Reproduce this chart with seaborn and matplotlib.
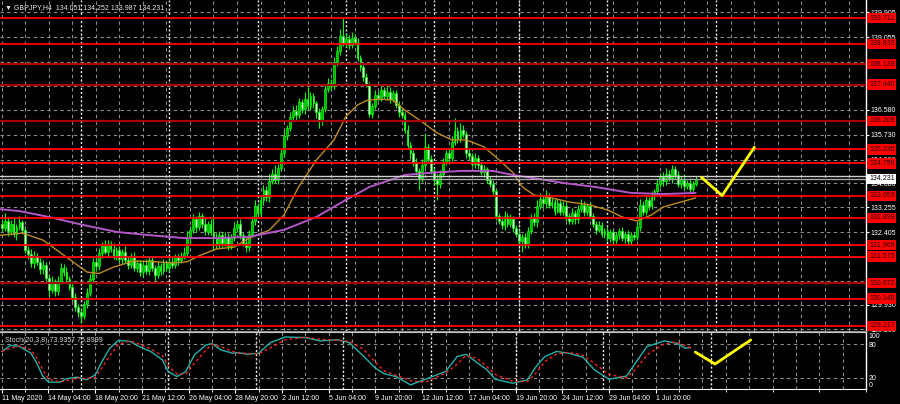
import numpy as np
import pandas as pd
import matplotlib
matplotlib.use("Agg")
import matplotlib.pyplot as plt
import matplotlib.transforms as mtransforms
import seaborn as sns

# GBPJPY H4, bar index counted from 11 May 2020 00:00 (bar 0)
first_bar = 3
first_open = 132.70
close = [
    132.55, 132.80, 132.45, 132.70, 132.35, 132.60, 132.75, 132.50, 131.80, 131.65,
    131.35, 131.60, 131.40, 131.15, 131.30, 130.85, 130.45, 130.70, 130.40, 130.75,
    131.20, 131.05, 130.80, 130.55, 130.20, 129.85, 129.70, 129.55, 129.95, 130.35,
    130.80, 131.40, 131.25, 131.70, 131.95, 131.75, 132.00, 131.85, 131.60, 131.80,
    131.50, 131.75, 131.45, 131.30, 131.55, 131.20, 131.35, 131.05, 131.30, 131.10,
    131.45, 131.20, 130.95, 131.25, 131.10, 131.35, 131.20, 131.40, 131.30, 131.55,
    131.45, 131.60, 131.70, 132.20, 132.50, 132.85, 132.60, 132.95, 132.70, 132.45,
    132.70, 132.40, 132.25, 132.00, 132.30, 132.05, 132.25, 131.95, 132.20, 132.55,
    132.70, 132.30, 132.05, 131.90, 132.35, 132.80, 133.30, 133.05, 133.50, 133.85,
    133.60, 134.15, 134.40, 134.20, 134.60, 135.10, 135.70, 135.95, 136.35, 136.55,
    136.40, 136.85, 136.60, 136.95, 136.70, 137.05, 136.80, 136.50, 136.20, 136.60,
    137.30, 137.50, 137.40, 138.20, 138.60, 139.10, 138.85, 139.00, 138.80, 139.05,
    138.90, 138.35, 138.05, 137.70, 137.45, 136.45, 136.70, 137.10, 137.00, 137.25,
    137.05, 137.20, 136.95, 137.15, 136.75, 136.50, 136.40, 135.90, 135.40, 135.10,
    134.80, 134.50, 134.25, 134.70, 135.30, 134.90, 134.50, 134.20, 134.05, 134.40,
    134.80, 135.10, 134.95, 135.50, 135.85, 135.60, 135.90, 135.75, 135.10, 135.00,
    134.75, 134.95, 134.70, 134.45, 134.55, 134.20, 134.05, 133.80, 132.95, 132.80,
    132.65, 132.95, 132.70, 132.85, 132.55, 132.35, 132.10, 132.25, 132.00, 132.45,
    132.90, 132.75, 133.30, 133.55, 133.40, 133.60, 133.35, 133.45, 133.15, 133.40,
    133.10, 133.30, 132.95, 132.80, 133.05, 132.85, 133.20, 133.35, 133.10, 133.30,
    132.95, 132.70, 132.50, 132.65, 132.35, 132.45, 132.20, 132.40, 132.15, 132.30,
    132.45, 132.20, 132.35, 132.10, 132.30, 132.25, 132.60, 133.35, 133.10, 133.50,
    133.30, 133.65, 133.80, 134.05, 134.30, 134.15, 134.40, 134.25, 134.55, 134.35,
    134.05, 134.20, 134.00, 134.10, 133.90, 134.05, 134.231,
]
# wick lengths in hundredths of a yen above / below the candle body
wick_up = [
    15, 25, 10, 12, 18, 10, 20, 8, 12, 15,
    20, 18, 10, 12, 15, 10, 12, 22, 10, 15,
    15, 12, 18, 10, 12, 15, 10, 8, 12, 15,
    20, 12, 15, 18, 12, 20, 15, 10, 18, 12,
    15, 10, 20, 12, 15, 18, 10, 12, 15, 20,
    12, 15, 10, 18, 12, 15, 10, 12, 15, 10,
    12, 15, 20, 25, 12, 18, 10, 15, 12, 18,
    10, 15, 60, 12, 15, 10, 18, 12, 15, 20,
    12, 15, 10, 18, 12, 15, 20, 10, 15, 18,
    12, 25, 15, 30, 12, 15, 20, 12, 15, 18,
    20, 15, 12, 25, 40, 15, 12, 10, 15, 12,
    15, 18, 12, 20, 15, 25, 62, 20, 15, 18,
    12, 15, 10, 12, 15, 10, 12, 15, 12, 15,
    12, 18, 15, 10, 12, 15, 10, 12, 15, 10,
    12, 15, 10, 20, 50, 12, 15, 10, 18, 12,
    15, 12, 18, 20, 45, 15, 25, 18, 12, 15,
    12, 15, 10, 12, 15, 10, 12, 15, 10, 12,
    15, 20, 12, 18, 10, 12, 15, 10, 12, 15,
    12, 15, 20, 18, 12, 25, 15, 12, 10, 15,
    12, 18, 15, 10, 20, 12, 15, 18, 12, 10,
    15, 12, 10, 15, 12, 10, 15, 12, 10, 12,
    12, 15, 10, 15, 12, 10, 15, 20, 12, 15,
    12, 15, 10, 18, 12, 15, 20, 12, 15, 12,
    15, 12, 18, 10, 15, 12, 8,
]
wick_dn = [
    12, 10, 18, 15, 12, 20, 10, 15, 10, 15,
    12, 15, 10, 18, 15, 12, 20, 10, 15, 12,
    10, 15, 12, 10, 15, 12, 18, 24, 10, 12,
    12, 10, 15, 12, 18, 10, 15, 12, 10, 15,
    12, 18, 10, 15, 12, 10, 15, 12, 18, 10,
    15, 12, 20, 10, 15, 12, 10, 15, 12, 10,
    15, 10, 12, 10, 15, 12, 18, 10, 15, 12,
    12, 10, 45, 15, 12, 18, 10, 15, 12, 10,
    15, 12, 10, 18, 12, 10, 15, 12, 10, 15,
    12, 15, 10, 12, 15, 10, 12, 15, 10, 12,
    15, 10, 12, 15, 10, 12, 15, 18, 23, 12,
    10, 12, 15, 10, 12, 15, 10, 12, 15, 10,
    12, 10, 15, 12, 10, 12, 15, 10, 12, 10,
    10, 12, 15, 10, 12, 15, 10, 12, 15, 18,
    12, 15, 40, 12, 15, 10, 12, 15, 55, 12,
    12, 10, 15, 12, 10, 15, 12, 10, 15, 12,
    10, 15, 12, 10, 15, 12, 10, 15, 12, 10,
    12, 15, 10, 12, 15, 10, 12, 37, 12, 12,
    10, 12, 15, 10, 12, 15, 10, 12, 15, 10,
    12, 10, 15, 12, 10, 15, 12, 10, 15, 12,
    10, 12, 15, 10, 12, 15, 10, 12, 15, 10,
    12, 10, 15, 12, 10, 12, 10, 15, 12, 10,
    12, 10, 15, 12, 10, 15, 12, 10, 15, 12,
    10, 12, 15, 10, 12, 10, 8,
]

# moving averages (orange fast, violet slow)
ma_fast_bar = [2, 10, 17, 25, 32, 36, 41, 48, 56, 61, 66, 70, 76, 82, 87, 94, 99, 104, 110, 116,
               120, 124, 127, 131, 136, 140, 145, 151, 156, 161, 167, 171, 177, 180, 184, 190,
               196, 203, 209, 214, 219, 224, 228, 234, 239]
ma_fast = [132.30, 132.38, 132.14, 131.56, 131.05, 131.00, 131.22, 131.43, 131.40, 131.36,
           131.40, 131.60, 131.84, 131.90, 132.20, 132.48, 133.00, 133.96, 134.87, 135.56,
           136.35, 136.75, 136.90, 136.95, 136.92, 136.58, 136.24, 135.80, 135.56, 135.56,
           135.32, 134.98, 134.43, 133.96, 133.68, 133.58, 133.44, 133.34, 133.17, 132.93,
           132.79, 133.00, 133.27, 133.44, 133.58]
ma_slow_bar = [2, 9, 19, 31, 42, 53, 65, 76, 87, 99, 110, 120, 128, 131, 140, 148, 159, 170,
               177, 186, 194, 205, 217, 228, 239]
ma_slow = [133.20, 133.13, 132.93, 132.65, 132.42, 132.31, 132.21, 132.21, 132.25, 132.49,
           132.93, 133.51, 133.95, 134.05, 134.36, 134.43, 134.50, 134.50, 134.36, 134.22,
           134.09, 133.95, 133.75, 133.71, 133.75]

# Stochastic(20,3,8) main line
stoch_bar = [3, 6, 9, 13, 15, 17, 19, 23, 25, 29, 32, 35, 37, 40, 43, 47, 50, 54, 58, 60,
             63, 66, 69, 73, 75, 78, 82, 84, 87, 91, 95, 100, 107, 112, 118, 122, 127, 131,
             134, 138, 143, 148, 152, 155, 159, 162, 166, 169, 172, 178, 183, 186, 189, 193,
             197, 202, 206, 211, 217, 220, 224, 230, 234, 237, 239]
stoch_main = [67, 78, 76, 64, 46, 23, 12, 12, 18, 21, 16, 25, 46, 73, 87, 85, 76, 67, 52, 31,
              22, 31, 61, 79, 81, 70, 64, 65, 62, 64, 83, 93, 92, 86, 88, 83, 58, 37, 27, 22,
              7, 17, 25, 31, 58, 62, 46, 35, 17, 10, 16, 40, 58, 67, 64, 57, 34, 17, 23, 46,
              76, 86, 82, 73, 74]

# yellow hand-drawn forecast
proj_bar = [241, 248, 259]
proj_price = [134.28, 133.66, 135.31]
proj_stoch_bar = [240.5, 247.3, 259.5]
proj_stoch = [66, 44.5, 87.6]

levels_bright = [139.711, 138.833, 135.235, 134.758, 133.653, 132.899, 131.969, 131.575,
                 130.148, 129.217]
levels_dark = [138.139, 137.440, 136.209, 130.672]
bid, ask = 134.231, 134.33

grid_prices = [129.105, 129.930, 130.755, 131.580, 132.405, 133.255, 134.080, 134.880,
               135.730, 136.580, 137.405, 138.230, 139.055, 139.905]
# scale labels that sit under a level box are not shown
hidden_prices = [130.755, 131.580, 137.405, 138.230]
label_bars = [3, 19, 35, 51, 67, 83, 99, 115, 131, 147, 163, 179, 195, 211, 227]
x_labels = ["11 May 2020", "14 May 04:00", "18 May 20:00", "21 May 12:00", "26 May 04:00",
            "28 May 20:00", "2 Jun 12:00", "5 Jun 04:00", "9 Jun 20:00", "12 Jun 12:00",
            "17 Jun 04:00", "19 Jun 20:00", "24 Jun 12:00", "29 Jun 04:00", "1 Jul 20:00"]
week_bars = [30, 60, 90, 120, 150, 179, 209, 246]

sns.set_style("dark", {"axes.facecolor": "black", "figure.facecolor": "black"})
plt.rcParams["font.family"] = ["Liberation Sans", "DejaVu Sans"]

fig = plt.figure(figsize=(9, 4.04), dpi=100, facecolor="black")
ax = fig.add_axes([0, 1 - 331 / 404, 866 / 900, 331 / 404])
ax2 = fig.add_axes([0, 1 - 388.8 / 404, 866 / 900, 56.8 / 404])

grid_kw = dict(color="#8c8c8c", ls=(0, (3, 3)), lw=0.8, zorder=0.2)
for a in (ax, ax2):
    a.set_facecolor("black")
    a.grid(False)
    a.set_xlim(2.39, 296.95)
    for s in a.spines.values():
        s.set_visible(False)
    a.spines["right"].set_visible(True)
    a.spines["right"].set_color("white")
    a.spines["right"].set_linewidth(1)
    for b in np.arange(3, 300, 8):
        a.axvline(b, **grid_kw)
    for b in week_bars:
        a.axvline(b, color="#f0f0f0", ls=(0, (1.5, 1.5)), lw=1, zorder=0.3)

ax.spines["bottom"].set_visible(True)
ax.spines["bottom"].set_color("#909090")
ax2.spines["top"].set_visible(True)
ax2.spines["top"].set_color("#c8c8c8")
ax2.spines["bottom"].set_visible(True)
ax2.spines["bottom"].set_color("white")

# price panel
ax.set_ylim(129.04, 140.33)
for p in grid_prices:
    ax.axhline(p, **grid_kw)

close = np.array(close)
opens = np.concatenate([[first_open], close[:-1]])
bars = np.arange(first_bar, first_bar + len(close))
high = np.maximum(opens, close) + np.array(wick_up) / 100
low = np.minimum(opens, close) - np.array(wick_dn) / 100
up = close >= opens

ax.vlines(bars, low, high, color="#00ff00", lw=0.8, zorder=1.4)
ax.bar(bars[up], (close - opens)[up], bottom=opens[up], width=0.62,
       color="#00b400", edgecolor="#00ff00", lw=0.5, zorder=1.5)
ax.bar(bars[~up], (close - opens)[~up], bottom=opens[~up], width=0.62,
       color="#f4fff4", edgecolor="#00ff00", lw=0.5, zorder=1.5)

sns.lineplot(x=ma_fast_bar, y=ma_fast, ax=ax, color="#c08a1e", lw=1, errorbar=None, zorder=3)
sns.lineplot(x=ma_slow_bar, y=ma_slow, ax=ax, color="#b455c8", lw=1.4, errorbar=None, zorder=3)

for lv in levels_bright:
    ax.axhline(lv, color="#ff0000", lw=1.3, zorder=4)
for lv in levels_dark:
    ax.axhline(lv, color="#a80000", lw=1.6, zorder=4)
ax.axhline(ask, color="#d0d0d0", lw=1, zorder=4)
ax.axhline(bid, color="#a8a8a8", lw=1, zorder=4)

sns.lineplot(x=proj_bar, y=proj_price, ax=ax, color="#ffff00", lw=2, errorbar=None, zorder=5)

ax.set_yticks(grid_prices)
ax.set_yticklabels(["" if p in hidden_prices else f"{p:.3f}" for p in grid_prices])
ax.yaxis.tick_right()
ax.tick_params(axis="y", colors="white", labelsize=5, length=2, width=0.8, pad=1.5)
ax.tick_params(axis="x", bottom=False, labelbottom=False)
ax.set_xlabel("")
ax.set_ylabel("")

lab_tr = mtransforms.blended_transform_factory(fig.transFigure, ax.transData)
for lv in levels_bright + levels_dark:
    ax.text(869 / 900, lv, f"{lv:.3f}", transform=lab_tr, fontsize=5, va="center",
            ha="left", color="#2a0000", clip_on=False, zorder=6,
            bbox=dict(boxstyle="square,pad=0.25", fc="#ff0000", ec="none"))
ax.text(869 / 900, bid, f"{bid:.3f}", transform=lab_tr, fontsize=5, va="center",
        ha="left", color="black", clip_on=False, zorder=7,
        bbox=dict(boxstyle="square,pad=0.25", fc="white", ec="none"))

# stochastic panel
ax2.set_ylim(0, 102)
ax2.axhline(80, **grid_kw)
ax2.axhline(20, **grid_kw)
signal = pd.Series(stoch_main).rolling(2, min_periods=1).mean()
sns.lineplot(x=stoch_bar, y=stoch_main, ax=ax2, color="#20b2aa", lw=1, errorbar=None, zorder=3)
sns.lineplot(x=stoch_bar, y=signal, ax=ax2, color="#ff2020", lw=1, ls=(0, (2, 2)),
             errorbar=None, zorder=3.1)
sns.lineplot(x=proj_stoch_bar, y=proj_stoch, ax=ax2, color="#ffff00", lw=2, errorbar=None, zorder=5)

ax2.set_yticks([0, 20, 80, 100])
ax2.set_yticklabels(["0", "20", "80", "100"])
ax2.yaxis.tick_right()
ax2.tick_params(axis="y", colors="white", labelsize=5, length=0, pad=2)
tl = ax2.get_yticklabels()
tl[0].set_va("bottom")
tl[3].set_va("top")
ax2.set_xticks(label_bars)
ax2.set_xticklabels(x_labels, ha="left")
ax2.set_xticks(np.arange(11, 300, 16), minor=True)
ax2.tick_params(axis="x", which="major", colors="white", labelsize=5, length=3, width=0.8,
                pad=1.5, bottom=True)
ax2.tick_params(axis="x", which="minor", colors="white", length=2, width=0.6, bottom=True)
ax2.set_xlabel("")
ax2.set_ylabel("")

fig.text(5 / 900, 1 - 8 / 404, "\u25bc GBPJPY,H4  134.051 134.252 133.987 134.231",
         color="#e8e8e8", fontsize=5, va="center")
fig.text(5 / 900, 1 - 340 / 404, "Stoch(20,3,8) 73.9357 75.8999",
         color="#d8d8d8", fontsize=5, va="center")

fig.savefig("out.png", dpi=100, facecolor="black")
